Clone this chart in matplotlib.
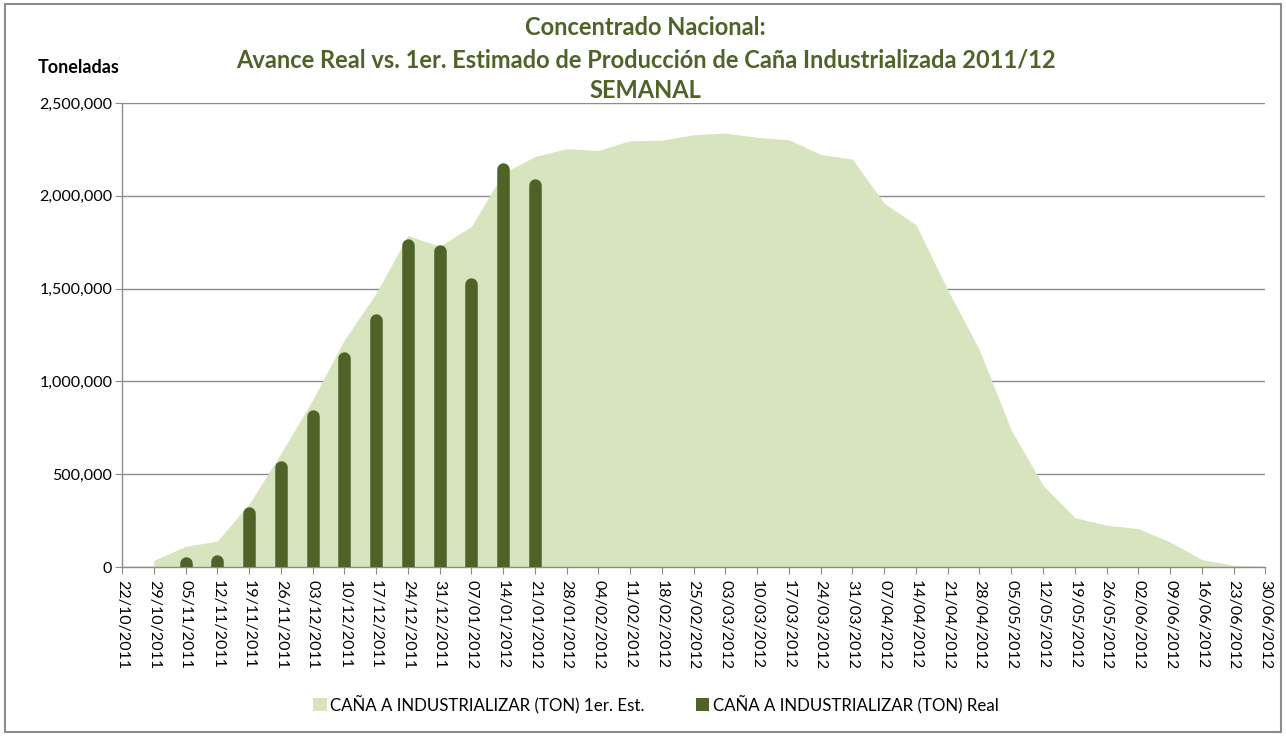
import numpy as np
import matplotlib.pyplot as plt
from matplotlib.patches import Rectangle, Patch
from matplotlib.ticker import FuncFormatter

plt.rcParams['font.family'] = ['Lato', 'DejaVu Sans']

# weekly dates on the x axis
dates = ["22/10/2011", "29/10/2011", "05/11/2011", "12/11/2011", "19/11/2011",
         "26/11/2011", "03/12/2011", "10/12/2011", "17/12/2011", "24/12/2011",
         "31/12/2011", "07/01/2012", "14/01/2012", "21/01/2012", "28/01/2012",
         "04/02/2012", "11/02/2012", "18/02/2012", "25/02/2012", "03/03/2012",
         "10/03/2012", "17/03/2012", "24/03/2012", "31/03/2012", "07/04/2012",
         "14/04/2012", "21/04/2012", "28/04/2012", "05/05/2012", "12/05/2012",
         "19/05/2012", "26/05/2012", "02/06/2012", "09/06/2012", "16/06/2012",
         "23/06/2012", "30/06/2012"]

# 1er. estimado, from 29/10/2011 to 30/06/2012
estimado = [36000, 111000, 140000, 340000, 611000, 900000, 1223000, 1475000,
            1786000, 1728000, 1835000, 2122000, 2212000, 2254000, 2245000,
            2297000, 2300000, 2329000, 2338000, 2315000, 2302000, 2223000,
            2198000, 1960000, 1844000, 1493000, 1169000, 737000, 441000,
            266000, 225000, 207000, 135000, 40000, 9000, 1000]
est_start = 1

# real, from 05/11/2011 to 21/01/2012
real = [54000, 66000, 324000, 575000, 845000, 1160000, 1363000, 1768000,
        1736000, 1556000, 2180000, 2090000]
real_start = 2

light = "#D7E4BD"
dark = "#4F6228"
grid_c = "#8C8C8C"

fig = plt.figure(figsize=(12.86, 7.36), dpi=100)
ax = fig.add_axes([0.0949, 0.2296, 0.889, 0.6304])

x_est = np.arange(est_start, est_start + len(estimado))
ax.fill_between(x_est, estimado, 0, color=light, linewidth=0, zorder=2)

ax.set_xlim(0, len(dates) - 1)
ax.set_ylim(0, 2500000)

# bars with rounded tops: thick vlines with round caps, shortened by the cap radius
bar_px = 12.5
px_per_unit = ax.bbox.height / 2500000
cap = (bar_px / 2) / px_per_unit
x_real = np.arange(real_start, real_start + len(real))
ax.vlines(x_real, 0, np.array(real) - cap, color=dark,
          linewidth=bar_px * 72 / fig.dpi, capstyle='round', zorder=3)

ax.set_yticks(np.arange(0, 2500001, 500000))
ax.yaxis.set_major_formatter(FuncFormatter(lambda v, p: f"{int(v):,}"))
ax.grid(axis='y', color=grid_c, linewidth=1, zorder=1)
ax.set_axisbelow(True)

ax.set_xticks(np.arange(len(dates)))
ax.set_xticklabels(dates, rotation=270, fontsize=11.5)
ax.tick_params(axis='y', labelsize=11.5, length=5, color=grid_c, pad=2)
ax.tick_params(axis='x', length=5, color=grid_c, pad=4)

for s in ['top', 'right']:
    ax.spines[s].set_visible(False)
for s in ['left', 'bottom']:
    ax.spines[s].set_color(grid_c)
    ax.spines[s].set_linewidth(1)

fig.text(0.502, 0.962, "Concentrado Nacional:", ha='center', va='center',
         fontsize=17, fontweight='bold', color=dark)
fig.text(0.502, 0.919, "Avance Real vs. 1er. Estimado de Producción de Caña Industrializada 2011/12",
         ha='center', va='center', fontsize=17, fontweight='bold', color=dark)
fig.text(0.502, 0.877, "SEMANAL", ha='center', va='center',
         fontsize=17, fontweight='bold', color=dark)
fig.text(0.029, 0.908, "Toneladas", ha='left', va='center', fontsize=13, fontweight='bold')

handles = [Patch(facecolor=light, edgecolor='none', label="CAÑA A INDUSTRIALIZAR (TON) 1er. Est."),
           Patch(facecolor=dark, edgecolor='none', label="CAÑA A INDUSTRIALIZAR (TON) Real")]
fig.legend(handles=handles, loc='center', bbox_to_anchor=(0.51, 0.043), ncol=2,
           frameon=False, fontsize=12.2, handlelength=0.8, handleheight=0.8,
           handletextpad=0.2, columnspacing=3.0)

fig.add_artist(Rectangle((0.004, 0.006), 0.992, 0.988, transform=fig.transFigure,
                         fill=False, edgecolor="#8C8C8C", linewidth=1.5))

fig.savefig("out.png", dpi=100)
